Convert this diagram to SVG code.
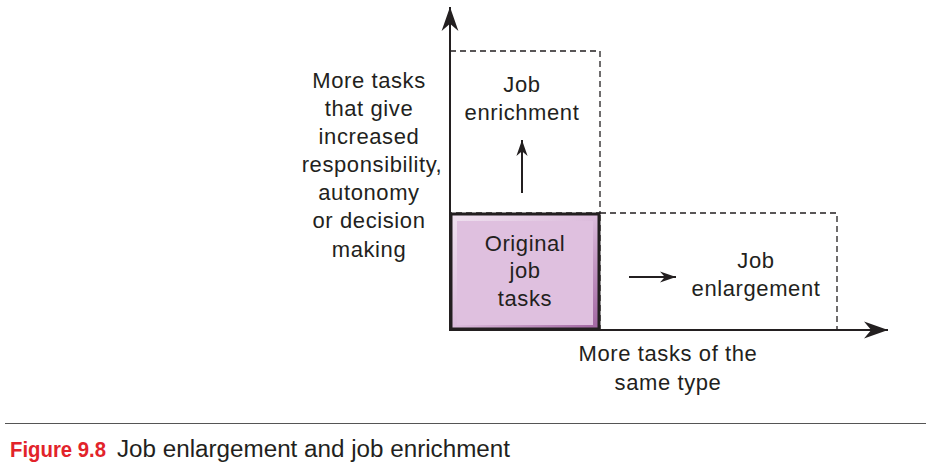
<svg xmlns="http://www.w3.org/2000/svg" width="926" height="471" viewBox="0 0 926 471">
<style>
.t{font-family:"Liberation Sans",Arial,sans-serif;font-size:22px;fill:#231f20;text-anchor:middle;letter-spacing:0.6px}
.ax{stroke:#231f20;stroke-width:2;fill:none}
.dash{stroke:#231f20;stroke-width:1.3;fill:none;stroke-dasharray:6 4}
</style>
<defs>
<marker id="ah" viewBox="0 0 10 10" refX="10" refY="5" markerWidth="16" markerHeight="16" markerUnits="userSpaceOnUse" orient="auto">
<path d="M0,1.5 L10,5 L0,8.5 L3,5 Z" fill="#231f20"/>
</marker>
<marker id="ahBig" viewBox="0 0 10 10" refX="10" refY="5" markerWidth="24" markerHeight="24" markerUnits="userSpaceOnUse" orient="auto">
<path d="M0,1.5 L10,5 L0,8.5 L3,5 Z" fill="#231f20"/>
</marker>
<linearGradient id="gh" x1="0" y1="0" x2="1" y2="1">
<stop offset="0" stop-color="#f0e2f0"/>
<stop offset="0.5" stop-color="#dcbcdc"/>
<stop offset="1" stop-color="#a064a0"/>
</linearGradient>
</defs>
<g id="enrichment">
<rect class="dash" x="450" y="51" width="150" height="162"/>
<text class="t" x="522" y="92">Job</text>
<text class="t" x="522" y="120">enrichment</text>
</g>
<g id="enlargement">
<rect class="dash" x="600" y="213" width="237" height="117"/>
<text class="t" x="756" y="268">Job</text>
<text class="t" x="756" y="296">enlargement</text>
</g>
<g id="original">
<rect x="451" y="214" width="148" height="115" fill="url(#gh)"/>
<rect x="457" y="221" width="136" height="104" fill="#dfc0df"/>
<rect x="451" y="214" width="148" height="115" fill="none" stroke="#231f20" stroke-width="3"/>
<text class="t" x="525" y="251">Original</text>
<text class="t" x="525" y="278">job</text>
<text class="t" x="525" y="306">tasks</text>
</g>
<g id="ylabel">
<text class="t" x="369" y="88">More tasks</text>
<text class="t" x="369" y="116">that give</text>
<text class="t" x="369" y="144">increased</text>
<text class="t" x="372" y="172">responsibility,</text>
<text class="t" x="369" y="200">autonomy</text>
<text class="t" x="369" y="228">or decision</text>
<text class="t" x="369" y="257">making</text>
</g>
<g id="xlabel">
<text class="t" x="668" y="361">More tasks of the</text>
<text class="t" x="668" y="390">same type</text>
</g>
<g id="connectors">
<line class="ax" x1="450" y1="330" x2="450" y2="7" marker-end="url(#ahBig)"/>
<line class="ax" x1="449" y1="330" x2="888" y2="330" marker-end="url(#ahBig)"/>
<line class="ax" x1="522" y1="193" x2="522" y2="140" marker-end="url(#ah)"/>
<line class="ax" x1="629" y1="277" x2="676" y2="277" marker-end="url(#ah)"/>
</g>
<g id="caption">
<line x1="5" y1="423.5" x2="926" y2="423.5" stroke="#555" stroke-width="1.2"/>
<text x="10" y="457" font-family="'Liberation Sans',Arial,sans-serif" font-size="22" font-weight="bold" fill="#e2232a" textLength="96" lengthAdjust="spacingAndGlyphs">Figure 9.8</text>
<text x="117" y="457" font-family="'Liberation Sans',Arial,sans-serif" font-size="23" fill="#231f20" textLength="393" lengthAdjust="spacingAndGlyphs">Job enlargement and job enrichment</text>
</g>
</svg>
